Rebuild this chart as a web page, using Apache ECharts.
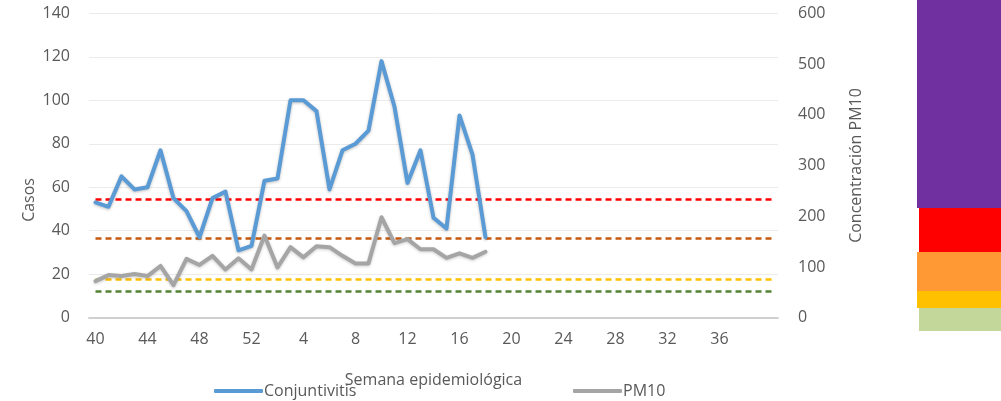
<!DOCTYPE html>
<html>
<head>
<meta charset="utf-8">
<script src="https://cdn.jsdelivr.net/npm/echarts@6/dist/echarts.min.js"></script>
<style>
html,body{margin:0;padding:0;background:#fff;}
#chart{width:1001px;height:401px;}
</style>
</head>
<body>
<div id="chart"></div>
<script>
// Semanas epidemiológicas (40..52 y 1..40)
const weeks = [40,41,42,43,44,45,46,47,48,49,50,51,52,
  1,2,3,4,5,6,7,8,9,10,11,12,13,14,15,16,17,18,19,20,21,22,23,24,25,26,27,28,29,30,31,32,33,34,35,36,37,38,39,40].map(String);
const conjuntivitis = [53,51,65,59,60,77,55,49,37,55,58,31,33,63,64,100,100,95,59,77,80,86,118,97,62,77,46,41,93,75,37];
const pm10 = [72,84,82,86,82,102,64,116,104,122,95,117,95,162,99,139,119,141,139,122,107,107,198,147,155,135,135,118,127,118,130];
const leftTicks = [0,140,20];   // min, max, interval
const rightTicks = [0,600,100];
const thresholds = [234,156,75,52]; // PM10 reference lines
const thresholdColors = ['#FF0000','#C55A11','#FFC000','#548235'];
const bandColors = ['#7030A0','#FF0000','#FF9933','#FFC000','#C4D79B'];

const font = 'Open Sans';
const txt = '#595959';
const chart = echarts.init(document.getElementById('chart'));
const lastIdx = weeks.length - 1;

const markData = thresholds.map((v,i)=>[
  {coord:[0,v], lineStyle:{color:thresholdColors[i]}},
  {coord:[lastIdx,v]}
]);

chart.setOption({
  animation:false,
  textStyle:{fontFamily:font},
  grid:{left:89,right:223,top:13.3,bottom:83.3,containLabel:false},
  legend:[
    {data:['Conjuntivitis'],left:209,top:378,itemWidth:49,itemHeight:4,icon:'roundRect',
     textStyle:{fontFamily:font,fontSize:16,color:txt,padding:[0,0,0,-4]}},
    {data:['PM10'],left:568,top:378,itemWidth:49,itemHeight:4,icon:'roundRect',
     textStyle:{fontFamily:font,fontSize:16,color:txt,padding:[0,0,0,-4]}}
  ],
  xAxis:{
    type:'category',data:weeks,boundaryGap:true,
    name:'Semana epidemiológica',nameLocation:'middle',nameGap:55,
    nameTextStyle:{fontFamily:font,fontSize:16,color:txt},
    axisLine:{lineStyle:{color:'#D0D0D0',width:2}},
    axisTick:{show:false},
    axisLabel:{interval:(i)=>i%4===0 && i<lastIdx,fontFamily:font,fontSize:16,color:txt,margin:14},
    splitLine:{show:false}
  },
  yAxis:[
    {type:'value',min:leftTicks[0],max:leftTicks[1],interval:leftTicks[2],
     axisLine:{show:false},axisTick:{show:false},
     axisLabel:{fontFamily:font,fontSize:16,color:txt,margin:19},
     splitLine:{lineStyle:{color:'#EBEBEB',width:1}}},
    {type:'value',min:rightTicks[0],max:rightTicks[1],interval:rightTicks[2],position:'right',
     name:'Concentración PM10',nameLocation:'middle',nameGap:70,nameRotate:90,
     nameTextStyle:{fontFamily:font,fontSize:16,color:txt},
     axisLine:{show:false},axisTick:{show:false},
     axisLabel:{fontFamily:font,fontSize:16,color:txt,margin:20,align:'left'},
     splitLine:{show:false}}
  ],
  series:[
    {name:'Conjuntivitis',type:'line',data:conjuntivitis,yAxisIndex:0,
     symbol:'none',z:5,color:'#5B9BD5',
     lineStyle:{width:4,color:'#5B9BD5',join:'round',cap:'round',shadowColor:'rgba(0,0,0,0.25)',shadowBlur:3,shadowOffsetY:1}},
    {name:'PM10',type:'line',data:pm10,yAxisIndex:1,
     symbol:'none',z:4,color:'#A5A5A5',
     lineStyle:{width:4,color:'#A5A5A5',join:'round',cap:'round',shadowColor:'rgba(0,0,0,0.2)',shadowBlur:3,shadowOffsetY:1},
     markLine:{silent:true,symbol:'none',z:3,label:{show:false},
       lineStyle:{type:[6,4],width:2.5},
       data:markData}}
  ],
  graphic:[
    {type:'text',left:21,top:178,rotation:Math.PI/2,
     style:{text:'Casos',fontFamily:font,fontSize:16,fill:txt}},
    {type:'rect',shape:{x:917,y:0,width:84,height:208},style:{fill:bandColors[0]}},
    {type:'rect',shape:{x:919,y:208,width:82,height:44},style:{fill:bandColors[1]}},
    {type:'rect',shape:{x:917,y:252,width:84,height:39},style:{fill:bandColors[2]}},
    {type:'rect',shape:{x:917,y:291,width:84,height:17},style:{fill:bandColors[3]}},
    {type:'rect',shape:{x:919,y:308,width:82,height:23},style:{fill:bandColors[4]}}
  ]
});
</script>
</body>
</html>
